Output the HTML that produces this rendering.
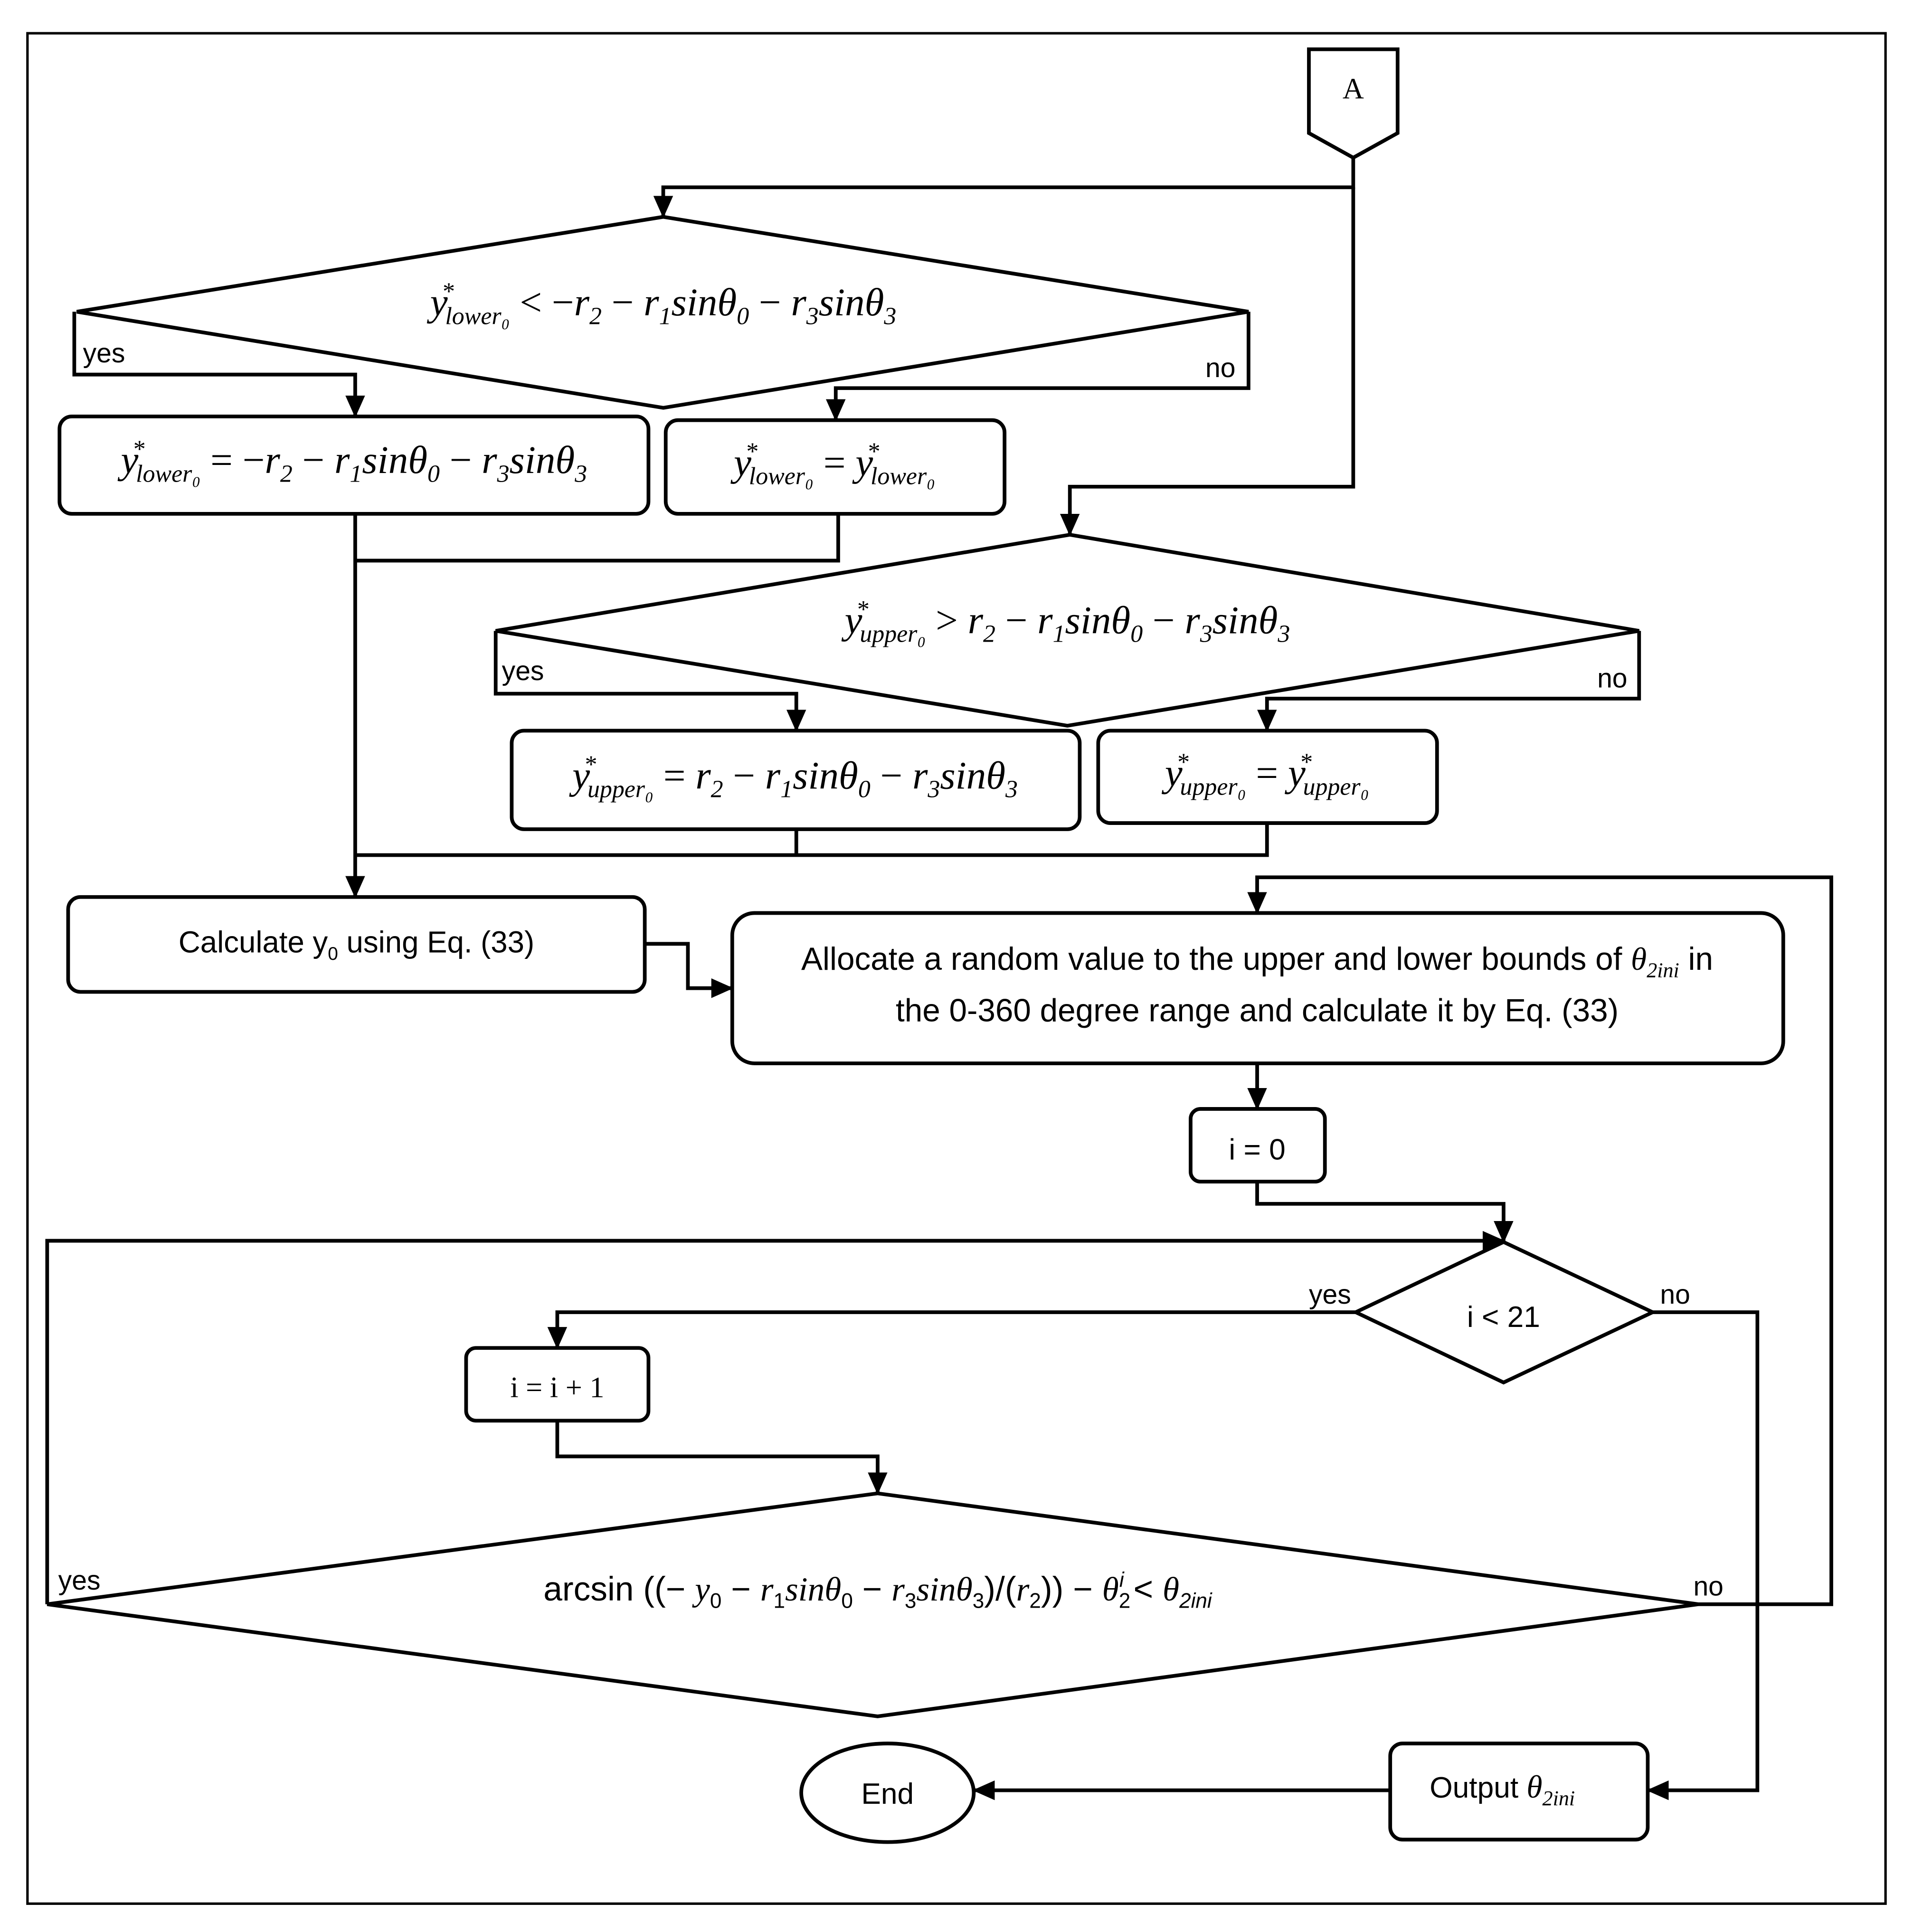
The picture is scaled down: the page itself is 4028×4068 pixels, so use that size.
<!DOCTYPE html>
<html><head><meta charset="utf-8"><style>html,body{margin:0;padding:0;background:#fff}svg{display:block}</style></head>
<body>
<svg width="4028" height="4068" viewBox="0 0 1552 1568" xmlns="http://www.w3.org/2000/svg">
<defs>
<marker id="b" markerWidth="18" markerHeight="16" refX="17" refY="8" orient="auto" markerUnits="userSpaceOnUse" viewBox="0 0 18 16"><path d="M0,0 L18,8 L0,16 z" fill="#000"/></marker></defs>
<rect width="1552" height="1568" fill="#fff"/>
<rect x="22" y="27" width="1508" height="1518" fill="none" stroke="#000" stroke-width="2"/>
<g fill="none" stroke="#000" stroke-width="3">
<path d="M1062,40 H1134 V108 L1098,128 L1062,108 Z"/>
<path d="M62,253 L538,176 L1013,253 L538,331 Z"/>
<path d="M402,512 L868,434 L1330,512 L866,589 Z"/>
<path d="M1100,1065 L1220,1008 L1341,1065 L1220,1122 Z"/>
<path d="M38,1302 L712,1212 L1378,1302 L712,1393 Z"/>
<rect x="48" y="338" width="478" height="79" rx="10"/>
<rect x="540" y="341" width="275" height="76" rx="10"/>
<rect x="415" y="593" width="461" height="80" rx="10"/>
<rect x="891" y="593" width="275" height="75" rx="10"/>
<rect x="55" y="728" width="468" height="77" rx="10"/>
<rect x="594" y="741" width="853" height="122" rx="18"/>
<rect x="966" y="900" width="109" height="59" rx="8"/>
<rect x="378" y="1094" width="148" height="59" rx="8"/>
<rect x="1128" y="1415" width="209" height="78" rx="10"/>
<ellipse cx="720" cy="1455" rx="70" ry="40"/>
</g>
<g fill="none" stroke="#000" stroke-width="3" marker-end="url(#b)">
<path d="M1098,128 V152 H538 V176"/>
<path d="M1098,152 V395 H868 V434"/>
<path d="M60,253 V304 H288 V338"/>
<path d="M1013,253 V315 H678 V341"/>
<path d="M288,417 V728"/>
<path d="M402,512 V563 H646 V593"/>
<path d="M1330,512 V567 H1028 V593"/>
<path d="M523,766 H558 V802 H594"/>
<path d="M1378,1302 H1486 V712 H1020 V741"/>
<path d="M1020,863 V900"/>
<path d="M1020,959 V977 H1220 V1008"/>
<path d="M1100,1065 H452 V1094"/>
<path d="M1341,1065 H1426 V1453 H1337"/>
<path d="M452,1153 V1182 H712 V1212"/>
<path d="M38,1302 V1007 H1220"/>
<path d="M1128,1453 H790"/>
</g>
<g fill="none" stroke="#000" stroke-width="3">
<path d="M680,417 V455 H288"/>
<path d="M646,673 V694 M1028,668 V694 H288"/>
</g>
<g font-family="Liberation Sans, sans-serif" font-size="22" fill="#000">
<text x="1098" y="80" text-anchor="middle" font-family="Liberation Serif, serif" font-size="24">A</text>
<text x="67" y="294">yes</text><text x="978" y="306">no</text>
<text x="407" y="552">yes</text><text x="1296" y="558">no</text>
<text x="1062" y="1058">yes</text><text x="1347" y="1058">no</text>
<text x="47" y="1290">yes</text><text x="1374" y="1295">no</text>
<text x="289" y="773" text-anchor="middle" font-size="24.5">Calculate y<tspan font-size="15" dy="6">0</tspan><tspan dy="-6"> using Eq. (33)</tspan></text>
<text x="1020" y="787" text-anchor="middle" font-size="26">Allocate a random value to the upper and lower bounds of <tspan font-family="Liberation Serif, serif" font-style="italic">θ</tspan><tspan font-size="17" dy="6" font-family="Liberation Serif, serif" font-style="italic">2ini</tspan><tspan dy="-6"> in</tspan></text>
<text x="1020" y="829" text-anchor="middle" font-size="26">the 0-360 degree range and calculate it by Eq. (33)</text>
<text x="1020" y="941" text-anchor="middle" font-size="24">i = 0</text>
<text x="1220" y="1077" text-anchor="middle" font-size="24">i &lt; 21</text>
<text x="452" y="1134" text-anchor="middle" font-size="24" font-family="Liberation Serif, serif">i = i + 1</text>
<text x="720" y="1464" text-anchor="middle" font-size="24">End</text>
<text x="1160" y="1459" font-size="24">Output <tspan font-family="Liberation Serif, serif" font-style="italic" font-size="26">θ</tspan><tspan font-size="17" dy="6" font-family="Liberation Serif, serif" font-style="italic">2ini</tspan></text>
<text x="712" y="1299" text-anchor="middle" font-size="27.5">arcsin ((− <tspan font-family="Liberation Serif, serif" font-style="italic">y</tspan><tspan font-size="17" dy="6">0</tspan><tspan dy="-6"> − </tspan><tspan font-family="Liberation Serif, serif" font-style="italic">r</tspan><tspan font-size="17" dy="6">1</tspan><tspan dy="-6" font-family="Liberation Serif, serif" font-style="italic">sinθ</tspan><tspan font-size="17" dy="6">0</tspan><tspan dy="-6"> − </tspan><tspan font-family="Liberation Serif, serif" font-style="italic">r</tspan><tspan font-size="17" dy="6">3</tspan><tspan dy="-6" font-family="Liberation Serif, serif" font-style="italic">sinθ</tspan><tspan font-size="17" dy="6">3</tspan><tspan dy="-6">)/(</tspan><tspan font-family="Liberation Serif, serif" font-style="italic">r</tspan><tspan font-size="17" dy="6">2</tspan><tspan dy="-6">)) − </tspan><tspan font-family="Liberation Serif, serif" font-style="italic">θ</tspan><tspan font-size="17" dy="6">2</tspan><tspan font-size="17" dy="-17" dx="-9" font-style="italic">i</tspan><tspan dy="11"> &lt; </tspan><tspan font-family="Liberation Serif, serif" font-style="italic">θ</tspan><tspan font-size="17" dy="6" font-style="italic">2ini</tspan></text>
</g>
<g font-family="Liberation Serif, serif" font-size="32" font-style="italic" fill="#000" text-anchor="middle">
<text x="538" y="256">y<tspan font-size="20" dy="-13" dx="-5">*</tspan><tspan font-size="20" dy="20" dx="-7">lower₀</tspan><tspan dy="-7" font-style="normal"> &lt; −</tspan>r<tspan font-size="20" dy="7">2</tspan><tspan dy="-7" font-style="normal"> − </tspan>r<tspan font-size="20" dy="7">1</tspan><tspan dy="-7">sinθ</tspan><tspan font-size="20" dy="7">0</tspan><tspan dy="-7" font-style="normal"> − </tspan>r<tspan font-size="20" dy="7">3</tspan><tspan dy="-7">sinθ</tspan><tspan font-size="20" dy="7">3</tspan></text>
<text x="287" y="384">y<tspan font-size="20" dy="-13" dx="-5">*</tspan><tspan font-size="20" dy="20" dx="-7">lower₀</tspan><tspan dy="-7" font-style="normal"> = −</tspan>r<tspan font-size="20" dy="7">2</tspan><tspan dy="-7" font-style="normal"> − </tspan>r<tspan font-size="20" dy="7">1</tspan><tspan dy="-7">sinθ</tspan><tspan font-size="20" dy="7">0</tspan><tspan dy="-7" font-style="normal"> − </tspan>r<tspan font-size="20" dy="7">3</tspan><tspan dy="-7">sinθ</tspan><tspan font-size="20" dy="7">3</tspan></text>
<text x="677" y="386">y<tspan font-size="20" dy="-13" dx="-5">*</tspan><tspan font-size="20" dy="20" dx="-7">lower₀</tspan><tspan dy="-7" font-style="normal"> = </tspan>y<tspan font-size="20" dy="-13" dx="-5">*</tspan><tspan font-size="20" dy="20" dx="-7">lower₀</tspan></text>
<text x="866" y="514">y<tspan font-size="20" dy="-13" dx="-5">*</tspan><tspan font-size="20" dy="20" dx="-7">upper₀</tspan><tspan dy="-7" font-style="normal"> &gt; </tspan>r<tspan font-size="20" dy="7">2</tspan><tspan dy="-7" font-style="normal"> − </tspan>r<tspan font-size="20" dy="7">1</tspan><tspan dy="-7">sinθ</tspan><tspan font-size="20" dy="7">0</tspan><tspan dy="-7" font-style="normal"> − </tspan>r<tspan font-size="20" dy="7">3</tspan><tspan dy="-7">sinθ</tspan><tspan font-size="20" dy="7">3</tspan></text>
<text x="645" y="640">y<tspan font-size="20" dy="-13" dx="-5">*</tspan><tspan font-size="20" dy="20" dx="-7">upper₀</tspan><tspan dy="-7" font-style="normal"> = </tspan>r<tspan font-size="20" dy="7">2</tspan><tspan dy="-7" font-style="normal"> − </tspan>r<tspan font-size="20" dy="7">1</tspan><tspan dy="-7">sinθ</tspan><tspan font-size="20" dy="7">0</tspan><tspan dy="-7" font-style="normal"> − </tspan>r<tspan font-size="20" dy="7">3</tspan><tspan dy="-7">sinθ</tspan><tspan font-size="20" dy="7">3</tspan></text>
<text x="1028" y="638">y<tspan font-size="20" dy="-13" dx="-5">*</tspan><tspan font-size="20" dy="20" dx="-7">upper₀</tspan><tspan dy="-7" font-style="normal"> = </tspan>y<tspan font-size="20" dy="-13" dx="-5">*</tspan><tspan font-size="20" dy="20" dx="-7">upper₀</tspan></text>
</g>
</svg>
</body></html>
